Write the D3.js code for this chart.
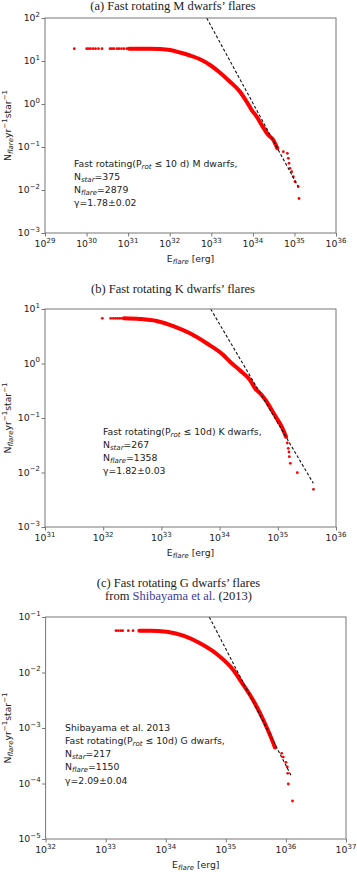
<!DOCTYPE html>
<html>
<head>
<meta charset="utf-8">
<script src="https://cdn.jsdelivr.net/npm/d3@7"></script>
<style>
body { margin: 0; background: #fff; }
svg text { font-family: "DejaVu Sans", sans-serif; fill: #222; }
.ttl { font-family: "Liberation Serif", "DejaVu Serif", serif; font-size: 12.5px; }
</style>
</head>
<body>
<div id="chart"></div>
<script>

// values, as log10(E) / log10(N)
// (a) M dwarfs
var mSparse = [[29.705,1.286],[30.003,1.286],[30.046,1.286],[30.094,1.286],[30.155,1.286],[30.215,1.286],
    [30.287,1.286],[30.371,1.286],[30.564,1.286],[30.612,1.286],[30.66,1.286],[30.732,1.286],[30.78,1.286],
    [30.84,1.286],[30.9,1.286],[30.97,1.286],
    [34.733,-1.109],[34.829,-1.147],[34.853,-1.263],[34.870,-1.379],[34.894,-1.495],[34.935,-1.574],
    [34.973,-1.691],[35.014,-1.807],[35.093,-1.923],[35.110,-2.198]];
var mDense = [[31.021,1.286],[31.285,1.286],[31.526,1.286],[31.766,1.279],[32.007,1.256],[32.248,1.198],
    [32.488,1.128],[32.729,1.040],[32.969,0.907],[33.210,0.728],[33.450,0.519],[33.691,0.286],[33.852,0.053],
    [33.972,-0.140],[34.093,-0.295],[34.213,-0.488],[34.372,-0.721],[34.492,-0.837],[34.588,-1.030]];
var mFit = [[32.89,2.0],[35.09,-1.92]];
var mXTicks = [29,30,31,32,33,34,35,36];
var mYTicks = [-3,-2,-1,0,1,2];
var mNote = ["Fast rotating(P|rot| ≤ 10 d) M dwarfs,", "N|star|=375", "N|flare|=2879", "γ=1.78±0.02"];

// (b) K dwarfs
var kSparse = [[31.985,0.829],[32.129,0.829],[32.174,0.829],[32.211,0.829],[32.246,0.829],[32.28,0.829],[32.314,0.829],
    [35.163,-1.459],[35.180,-1.556],[35.192,-1.624],[35.198,-1.710],[35.215,-1.831],[35.335,-2.004],[35.613,-2.308]];
var kDense = [[32.357,0.829],[32.632,0.817],[32.919,0.780],[33.204,0.688],[33.491,0.554],[33.778,0.371],
    [34.064,0.156],[34.179,0.033],[34.351,-0.128],[34.522,-0.303],[34.608,-0.455],[34.723,-0.578],
    [34.809,-0.701],[34.895,-0.853],[34.981,-1.006],[35.067,-1.160],[35.141,-1.343]];
var kFit = [[33.847,1.0],[35.610,-2.198]];
var kXTicks = [31,32,33,34,35,36];
var kYTicks = [-3,-2,-1,0,1];
var kNote = ["Fast rotating(P|rot| ≤ 10d) K dwarfs,", "N|star|=267", "N|flare|=1358", "γ=1.82±0.03"];

// (c) G dwarfs
var gSparse = [[33.172,-1.247],[33.210,-1.247],[33.250,-1.247],[33.283,-1.247],[33.377,-1.247],[33.455,-1.247],
    [35.930,-3.456],[35.956,-3.523],[36.001,-3.618],[36.023,-3.703],[36.030,-3.816],[36.040,-4.009],[36.110,-4.315]];
var gDense = [[33.560,-1.247],[33.738,-1.247],[34.016,-1.265],[34.292,-1.337],[34.570,-1.474],[34.848,-1.667],
    [35.124,-1.955],[35.291,-2.225],[35.402,-2.405],[35.514,-2.616],[35.624,-2.856],[35.735,-3.126],[35.818,-3.351]];
var gFit = [[34.725,-1.0],[36.096,-3.877]];
var gXTicks = [32,33,34,35,36,37];
var gYTicks = [-5,-4,-3,-2,-1];
var gNote = ["Shibayama et al. 2013", "Fast rotating(P|rot| ≤ 10d) G dwarfs,", "N|star|=217", "N|flare|=1150", "γ=2.09±0.04"];


var svg = d3.select("#chart").append("svg")
    .attr("width", 357)
    .attr("height", 872);

var red = "#ff0000";

function supText(sel, base, exp) {
    sel.append("tspan").text(base);
    sel.append("tspan").attr("dy", -4.5).style("font-size", "7px").text(String(exp).replace("-", "\u2212"));
}

// "N|star|=375" -> N, italic subscript, rest
function noteLine(sel, str) {
    var parts = str.split("|");
    parts.forEach(function(p, i) {
        if (i % 2 == 1) {
            sel.append("tspan").attr("dy", 2).style("font-size", "7px").style("font-style", "italic").text(p);
        } else {
            var t = sel.append("tspan").text(p);
            if (i > 0) t.attr("dy", -2);
        }
    });
}

function drawPanel(p) {
    var x = d3.scaleLog().domain([Math.pow(10, p.xTicks[0]), Math.pow(10, p.xTicks[p.xTicks.length - 1])]).range([p.left, p.right]);
    var y = d3.scaleLog().domain([Math.pow(10, p.yTicks[0]), Math.pow(10, p.yTicks[p.yTicks.length - 1])]).range([p.bottom, p.top]);
    var g = svg.append("g");

    var line = d3.line()
        .x(function(d) { return x(Math.pow(10, d[0])); })
        .y(function(d) { return y(Math.pow(10, d[1])); });

    // dense band of points
    g.append("path")
        .attr("d", line.curve(d3.curveMonotoneX)(p.dense))
        .attr("fill", "none")
        .attr("stroke", red)
        .attr("stroke-width", 4)
        .attr("stroke-linecap", "round");

    g.append("g").selectAll("circle")
        .data(p.sparse.concat(p.dense))
        .enter().append("circle")
        .attr("cx", function(d) { return x(Math.pow(10, d[0])); })
        .attr("cy", function(d) { return y(Math.pow(10, d[1])); })
        .attr("r", 1.4)
        .attr("fill", red);

    // power-law fit
    g.append("path")
        .attr("d", line.curve(d3.curveLinear)(p.fit))
        .attr("fill", "none")
        .attr("stroke", "#111")
        .attr("stroke-width", 1.1)
        .attr("stroke-dasharray", "3,2");

    // frame
    g.append("rect")
        .attr("x", p.left).attr("y", p.top)
        .attr("width", p.right - p.left).attr("height", p.bottom - p.top)
        .attr("fill", "none").attr("stroke", "#777").attr("stroke-width", 1);

    var xAxis = g.append("g")
        .attr("transform", "translate(0," + p.bottom + ")")
        .call(d3.axisBottom(x).tickValues(p.xTicks.map(function(e) { return Math.pow(10, e); }))
            .tickFormat("").tickSizeInner(3.5).tickSizeOuter(0));
    xAxis.select(".domain").remove();
    xAxis.selectAll("line").attr("stroke", "#777");

    var yAxis = g.append("g")
        .attr("transform", "translate(" + p.left + ",0)")
        .call(d3.axisLeft(y).tickValues(p.yTicks.map(function(e) { return Math.pow(10, e); }))
            .tickFormat("").tickSizeInner(3.5).tickSizeOuter(0));
    yAxis.select(".domain").remove();
    yAxis.selectAll("line").attr("stroke", "#777");

    p.xTicks.forEach(function(e) {
        var t = g.append("text")
            .attr("x", x(Math.pow(10, e)))
            .attr("y", p.bottom + 14)
            .attr("text-anchor", "middle")
            .style("font-size", "9.3px");
        supText(t, "10", e);
    });
    p.yTicks.forEach(function(e) {
        var t = g.append("text")
            .attr("x", p.left - 5)
            .attr("y", y(Math.pow(10, e)) + 3.3)
            .attr("text-anchor", "end")
            .style("font-size", "9.3px");
        supText(t, "10", e);
    });

    // x label
    var xl = g.append("text")
        .attr("x", (p.left + p.right) / 2)
        .attr("y", p.bottom + 28.5)
        .attr("text-anchor", "middle")
        .style("font-size", "9.3px");
    noteLine(xl, "E|flare| [erg]");

    // y label
    var yl = g.append("text")
        .attr("transform", "translate(11," + (p.top + p.bottom) / 2 + ") rotate(-90)")
        .attr("text-anchor", "middle")
        .style("font-size", "9.3px");
    yl.append("tspan").text("N");
    yl.append("tspan").attr("dy", 2).style("font-size", "7px").style("font-style", "italic").text("flare");
    yl.append("tspan").attr("dy", -2).text("yr");
    yl.append("tspan").attr("dy", -4).style("font-size", "7px").text("\u22121");
    yl.append("tspan").attr("dy", 4).text("star");
    yl.append("tspan").attr("dy", -4).style("font-size", "7px").text("\u22121");

    // annotation
    p.note.forEach(function(s, i) {
        var t = g.append("text")
            .attr("x", p.noteX)
            .attr("y", p.noteY + i * p.noteStep)
            .style("font-size", "9.3px");
        noteLine(t, s);
    });
}

// titles
svg.append("text").attr("class", "ttl").attr("x", 173).attr("y", 10).attr("text-anchor", "middle")
    .text("(a) Fast rotating M dwarfs\u2019 flares");
svg.append("text").attr("class", "ttl").attr("x", 173).attr("y", 293).attr("text-anchor", "middle")
    .text("(b) Fast rotating K dwarfs\u2019 flares");
svg.append("text").attr("class", "ttl").attr("x", 178.5).attr("y", 587).attr("text-anchor", "middle")
    .text("(c) Fast rotating G dwarfs\u2019 flares");
var t2 = svg.append("text").attr("class", "ttl").attr("x", 178.5).attr("y", 600).attr("text-anchor", "middle");
t2.append("tspan").text("from ");
t2.append("tspan").style("fill", "#3b3b9c").text("Shibayama et al.");
t2.append("tspan").text(" (2013)");

drawPanel({left: 45, right: 336, top: 18, bottom: 233, xTicks: mXTicks, yTicks: mYTicks,
    dense: mDense, sparse: mSparse, fit: mFit, note: mNote, noteX: 74, noteY: 166.5, noteStep: 13});
drawPanel({left: 45, right: 336, top: 309, bottom: 527, xTicks: kXTicks, yTicks: kYTicks,
    dense: kDense, sparse: kSparse, fit: kFit, note: kNote, noteX: 103, noteY: 434.5, noteStep: 13});
drawPanel({left: 45.6, right: 346, top: 617, bottom: 839, xTicks: gXTicks, yTicks: gYTicks,
    dense: gDense, sparse: gSparse, fit: gFit, note: gNote, noteX: 65, noteY: 730.5, noteStep: 13.3});

</script>
</body>
</html>
